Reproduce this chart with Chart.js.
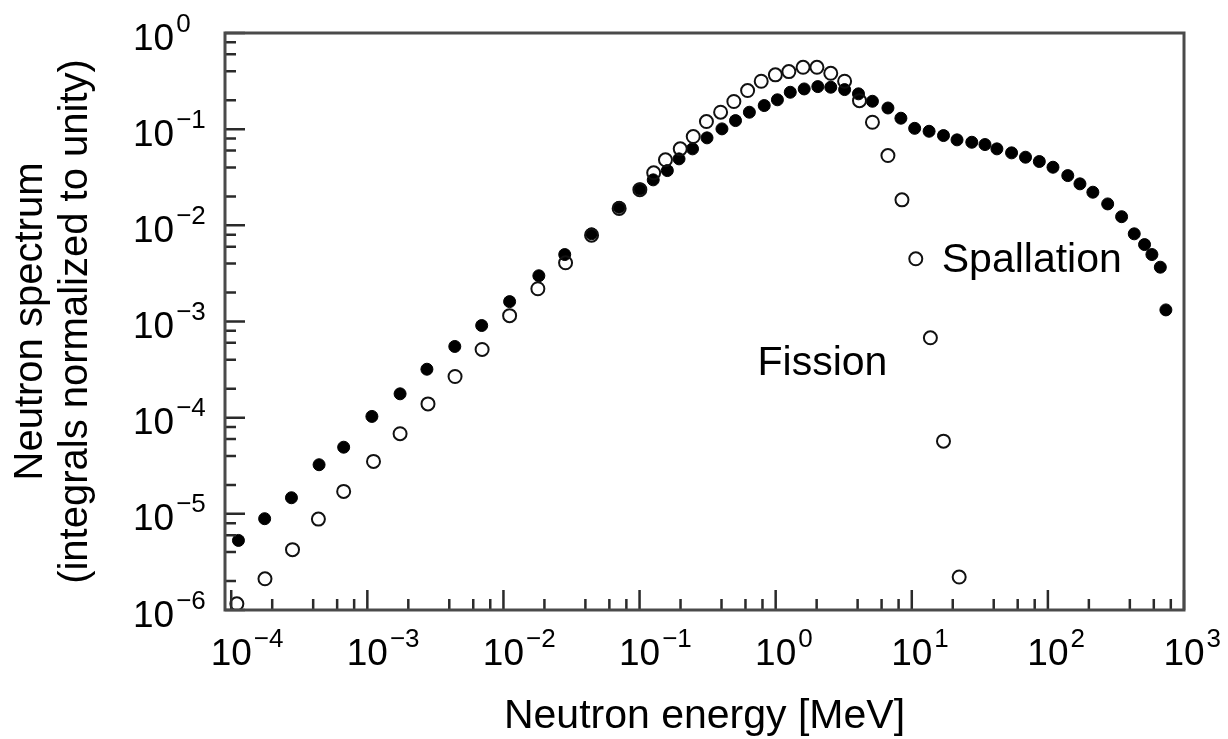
<!DOCTYPE html>
<html>
<head>
<meta charset="utf-8">
<script src="https://cdn.jsdelivr.net/npm/chart.js@4.4.1/dist/chart.umd.min.js"></script>
<style>
html,body{margin:0;padding:0;background:#fff;}
#wrap{position:relative;width:1228px;height:739px;}
</style>
</head>
<body>
<div id="wrap"><canvas id="c"></canvas></div>
<script>
// ---- Data ----
const spallationEnergy = [1.13e-4, 1.76e-4, 2.77e-4, 4.42e-4, 6.70e-4, 1.08e-3, 1.74e-3, 2.74e-3, 4.39e-3, 6.92e-3,
  1.11e-2, 1.82e-2, 2.82e-2, 4.44e-2, 7.08e-2, 0.1005, 0.126, 0.160, 0.195, 0.245,
  0.313, 0.403, 0.507, 0.641, 0.824, 1.03, 1.28, 1.62, 2.04, 2.54,
  3.21, 4.06, 5.14, 6.68, 8.32, 10.5, 13.4, 17.1, 21.5, 27.6,
  34.5, 42.2, 54.1, 68.5, 86.5, 109, 140, 172, 214, 275,
  348, 431, 513, 581, 670, 736];
const spallationSpectrum = [5.29e-6, 8.9e-6, 1.47e-5, 3.24e-5, 4.93e-5, 1.03e-4, 1.77e-4, 3.19e-4, 5.50e-4, 9.08e-4,
  1.61e-3, 2.99e-3, 4.97e-3, 8.16e-3, 1.54e-2, 2.39e-2, 2.97e-2, 3.71e-2, 4.91e-2, 6.24e-2,
  8.12e-2, 0.1007, 0.1228, 0.150, 0.176, 0.202, 0.242, 0.262, 0.277, 0.273,
  0.258, 0.233, 0.195, 0.166, 0.130, 0.102, 0.0951, 0.0858, 0.0774, 0.0731,
  0.0692, 0.0624, 0.0567, 0.0511, 0.0461, 0.0402, 0.0329, 0.0270, 0.0221, 0.0167,
  0.0123, 0.00816, 0.00631, 0.00497, 0.00367, 0.00132];

const fissionEnergy = [1.10e-4, 1.77e-4, 2.82e-4, 4.37e-4, 6.70e-4, 1.11e-3, 1.74e-3, 2.79e-3, 4.41e-3, 6.97e-3,
  1.11e-2, 1.79e-2, 2.86e-2, 4.44e-2, 7.08e-2, 0.1005, 0.127, 0.155, 0.199, 0.248,
  0.310, 0.394, 0.493, 0.622, 0.783, 0.995, 1.25, 1.59, 2.01, 2.54,
  3.21, 4.13, 5.14, 6.68, 8.47, 10.7, 13.7, 17.1, 22.3];
const fissionSpectrum = [1.16e-6, 2.11e-6, 4.24e-6, 8.81e-6, 1.71e-5, 3.51e-5, 6.81e-5, 1.39e-4, 2.68e-4, 5.12e-4,
  1.15e-3, 2.19e-3, 4.08e-3, 7.9e-3, 1.5e-2, 2.35e-2, 0.0352, 0.0480, 0.0624, 0.0838,
  0.120, 0.150, 0.194, 0.252, 0.315, 0.367, 0.397, 0.440, 0.440, 0.381,
  0.315, 0.198, 0.118, 0.0532, 0.0184, 0.00449, 6.77e-4, 5.70e-5, 2.20e-6];

// Tick labels: base and exponent (drawn as 10 with a superscript exponent)
const xTickExponents = [-4, -3, -2, -1, 0, 1, 2, 3];
const xTickLabels = ['\u22124', '\u22123', '\u22122', '\u22121', '0', '1', '2', '3'];
const yTickExponents = [-6, -5, -4, -3, -2, -1, 0];
const yTickLabels = ['\u22126', '\u22125', '\u22124', '\u22123', '\u22122', '\u22121', '0'];
const tickBase = '10';
const minorMultipliers = [2, 4, 6, 8];

const seriesNames = ['Fission', 'Spallation'];
const xTitle = 'Neutron energy [MeV]';
const yTitle = ['Neutron spectrum', '(integrals normalized to unity)'];
const annotationTexts = ['Spallation', 'Fission'];
const annotationAnchors = [[16.6, 3.25e-3], [0.736, 2.75e-4]];

// ---- helpers ----
const FONT = "'Liberation Sans', Arial, Helvetica, sans-serif";
function pairs(xs, ys) { return xs.map((v, i) => ({x: v, y: ys[i]})); }
function logTicks(min, max) {
  const out = [];
  const lo = Math.floor(Math.log10(min)), hi = Math.ceil(Math.log10(max));
  for (let e = lo; e <= hi; e++) {
    const base = Math.pow(10, e);
    if (base >= min * 0.999999 && base <= max * 1.000001) out.push({value: base, major: true});
    minorMultipliers.forEach(m => {
      const v = m * base;
      if (v >= min && v <= max) out.push({value: v, major: false});
    });
  }
  out.sort((a, b) => a.value - b.value);
  return out;
}

const BASE_FONT = '37px ' + FONT;
const EXP_FONT = '26px ' + FONT;

const framePlugin = {
  id: 'frameAndTicks',
  afterDraw(chart) {
    const {ctx, chartArea: a, scales: {x, y}} = chart;
    ctx.save();
    // inward tick marks
    ctx.strokeStyle = '#2a2a2a';
    ctx.lineWidth = 2.5;
    ctx.beginPath();
    x.ticks.forEach(t => {
      const px = x.getPixelForValue(t.value);
      const len = t.major ? 20 : 11;
      ctx.moveTo(px, a.bottom); ctx.lineTo(px, a.bottom - len);
    });
    y.ticks.forEach(t => {
      const py = y.getPixelForValue(t.value);
      const len = t.major ? 20 : 11;
      ctx.moveTo(a.left, py); ctx.lineTo(a.left + len, py);
    });
    ctx.stroke();
    // frame
    ctx.strokeStyle = '#4a4a4a';
    ctx.lineWidth = 3;
    ctx.strokeRect(a.left, a.top, a.right - a.left, a.bottom - a.top);

    // tick labels: 10 with superscript exponent
    ctx.fillStyle = '#000';
    ctx.textBaseline = 'alphabetic';
    ctx.font = BASE_FONT;
    const baseW = ctx.measureText(tickBase).width;
    xTickExponents.forEach((e, i) => {
      const px = x.getPixelForValue(Math.pow(10, e));
      ctx.font = BASE_FONT; ctx.textAlign = 'center';
      ctx.fillText(tickBase, px, a.bottom + 55);
      ctx.font = EXP_FONT; ctx.textAlign = 'left';
      ctx.fillText(xTickLabels[i], px + baseW / 2 + 2, a.bottom + 37);
    });
    const yLabelLeft = a.left - 92;
    yTickExponents.forEach((e, i) => {
      const py = y.getPixelForValue(Math.pow(10, e));
      ctx.font = BASE_FONT; ctx.textAlign = 'left';
      ctx.fillText(tickBase, yLabelLeft, py + 16.5);
      ctx.font = EXP_FONT;
      ctx.fillText(yTickLabels[i], yLabelLeft + baseW + 2, py - 1.5);
    });

    // text annotations
    ctx.font = '41px ' + FONT;
    ctx.textAlign = 'left';
    annotationTexts.forEach((txt, i) => {
      const px = x.getPixelForValue(annotationAnchors[i][0]);
      const py = y.getPixelForValue(annotationAnchors[i][1]);
      ctx.fillText(txt, px, py);
    });
    ctx.restore();
  }
};

Chart.defaults.font.family = FONT;
Chart.defaults.color = '#000';

new Chart(document.getElementById('c'), {
  type: 'scatter',
  data: {
    datasets: [
      {
        label: seriesNames[0],
        data: pairs(fissionEnergy, fissionSpectrum),
        pointStyle: 'circle',
        pointRadius: 6.5,
        pointBorderWidth: 2,
        pointBorderColor: '#111',
        pointBackgroundColor: 'rgba(255,255,255,0)',
        pointHoverRadius: 6.5,
        showLine: false
      },
      {
        label: seriesNames[1],
        data: pairs(spallationEnergy, spallationSpectrum),
        pointStyle: 'circle',
        pointRadius: 6,
        pointBorderWidth: 1,
        pointBorderColor: '#000',
        pointBackgroundColor: '#000',
        pointHoverRadius: 6,
        showLine: false
      }
    ]
  },
  options: {
    responsive: true,
    maintainAspectRatio: false,
    animation: false,
    events: [],
    layout: {padding: {left: 0, top: 33, right: 44, bottom: 0}},
    plugins: {legend: {display: false}, tooltip: {enabled: false}},
    scales: {
      x: {
        type: 'logarithmic',
        min: 9e-5,
        max: 1000,
        afterFit(scale) { scale.height = 129; },
        afterBuildTicks(scale) { scale.ticks = logTicks(scale.min, scale.max); },
        grid: {display: false, drawTicks: false},
        border: {display: false},
        ticks: {display: false, autoSkip: false},
        title: {
          display: true,
          text: xTitle,
          color: '#000',
          font: {size: 41, family: FONT, lineHeight: 1.0},
          padding: {top: 0, bottom: 2}
        }
      },
      y: {
        type: 'logarithmic',
        min: 1e-6,
        max: 1,
        afterFit(scale) { scale.width = 225; },
        afterBuildTicks(scale) { scale.ticks = logTicks(scale.min, scale.max); },
        grid: {display: false, drawTicks: false},
        border: {display: false},
        ticks: {display: false, autoSkip: false},
        title: {
          display: true,
          text: yTitle,
          color: '#000',
          font: {size: 40, family: FONT, lineHeight: 1.12},
          padding: {top: 9, bottom: 0}
        }
      }
    }
  },
  plugins: [framePlugin]
});
</script>
</body>
</html>
